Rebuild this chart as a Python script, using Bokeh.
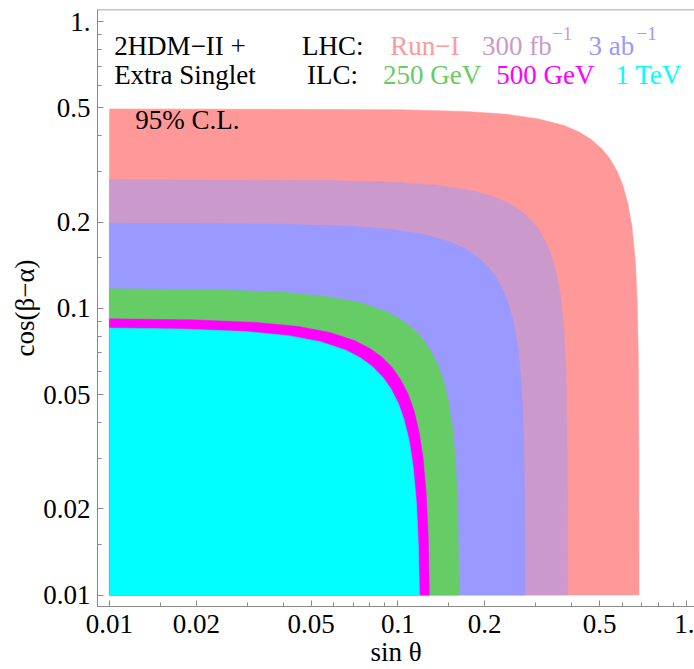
from bokeh.plotting import figure
from bokeh.models import FixedTicker, CustomJSTickFormatter, Label, Span
from bokeh.embed import file_html
from bokeh.resources import INLINE

# ---- data: boundaries of the 95% C.L. regions (sin theta, cos(beta-alpha)) ----
run1_x = [0.01, 0.1028, 0.1713, 0.2398, 0.3083, 0.3768, 0.4247, 0.4658, 0.5069, 0.5412, 0.5754,
          0.6028, 0.6268, 0.6473, 0.6645, 0.6747, 0.6816, 0.6843, 0.685]
run1_y = [0.496, 0.4929, 0.4861, 0.4747, 0.4576, 0.4338, 0.4120, 0.3894, 0.3619, 0.3343, 0.3008,
          0.2678, 0.2321, 0.1930, 0.1485, 0.1096, 0.0674, 0.0330, 0.01]

lhc300_x = [0.01, 0.0582, 0.0970, 0.1358, 0.1746, 0.2134, 0.2406, 0.2638, 0.2871, 0.3065, 0.3259,
            0.3414, 0.3550, 0.3667, 0.3764, 0.3822, 0.3861, 0.3876, 0.388]
lhc300_y = [0.281, 0.2792, 0.2754, 0.2689, 0.2593, 0.2457, 0.2334, 0.2206, 0.2050, 0.1894, 0.1704,
            0.1517, 0.1315, 0.1093, 0.0841, 0.0621, 0.0382, 0.0187, 0.01]

lhc3000_x = [0.01, 0.0414, 0.0690, 0.0966, 0.1242, 0.1518, 0.1711, 0.1877, 0.2042, 0.2180, 0.2318,
             0.2429, 0.2525, 0.2608, 0.2677, 0.2719, 0.2746, 0.276]
lhc3000_y = [0.198, 0.1964, 0.1933, 0.1881, 0.1806, 0.1703, 0.1612, 0.1517, 0.1403, 0.1289, 0.1153,
             0.1020, 0.0878, 0.0723, 0.0549, 0.0399, 0.0240, 0.01]

ilc250_x = [0.01, 0.02454, 0.0409, 0.05726, 0.07362, 0.08998, 0.1014, 0.1112, 0.1211, 0.1292, 0.1374,
            0.1440, 0.1497, 0.1546, 0.1587, 0.1611, 0.163]
ilc250_y = [0.117, 0.1159, 0.1135, 0.1098, 0.1047, 0.0979, 0.0920, 0.0859, 0.0788, 0.0719, 0.0636,
            0.0557, 0.0473, 0.0383, 0.0285, 0.0202, 0.01]

ilc500_x = [0.01, 0.0194, 0.0323, 0.04526, 0.05819, 0.07112, 0.08017, 0.08792, 0.09568, 0.1021, 0.1086,
            0.1138, 0.1183, 0.1222, 0.1254, 0.1274, 0.1285]
ilc500_y = [0.0919, 0.0912, 0.0893, 0.0864, 0.0823, 0.0770, 0.0723, 0.0676, 0.0620, 0.0565, 0.0500,
            0.0438, 0.0372, 0.0302, 0.0224, 0.0159, 0.01]

ilc1000_x = [0.01, 0.01794, 0.0299, 0.04186, 0.05382, 0.06578, 0.07415, 0.08133, 0.0885, 0.09448, 0.1005,
             0.1052, 0.1094, 0.1130, 0.1160, 0.1178, 0.1188]
ilc1000_y = [0.0854, 0.0847, 0.0830, 0.0803, 0.0765, 0.0716, 0.0672, 0.0628, 0.0576, 0.0525, 0.0465,
             0.0407, 0.0346, 0.0280, 0.0208, 0.0148, 0.01]

region_colors = ["#FF9999", "#CC99CC", "#9999FF", "#66CC66", "#FF00FF", "#00FFFF"]

major_ticks = [0.01, 0.02, 0.05, 0.1, 0.2, 0.5, 1.0]
minor_ticks = [0.015, 0.03, 0.04, 0.06, 0.07, 0.08, 0.09, 0.15, 0.3, 0.4, 0.6, 0.7, 0.8, 0.9]

SERIF = "Liberation Serif"
AXIS_GRAY = "#8a8a8a"
X_RANGE = (0.00909, 1.067)
Y_RANGE = (0.00912, 1.102)

p = figure(width=694, height=669, x_axis_type="log", y_axis_type="log",
           x_range=X_RANGE, y_range=Y_RANGE,
           output_backend="svg", toolbar_location=None,
           min_border_left=97, min_border_right=0, min_border_top=9, min_border_bottom=63,
           background_fill_color="white", border_fill_color="white")
p.outline_line_color = None
p.xgrid.visible = False
p.ygrid.visible = False

regions = [(run1_x, run1_y), (lhc300_x, lhc300_y), (lhc3000_x, lhc3000_y),
           (ilc250_x, ilc250_y), (ilc500_x, ilc500_y), (ilc1000_x, ilc1000_y)]
for (bx, by), col in zip(regions, region_colors):
    p.patch([0.01] + bx, [0.01] + by, fill_color=col, line_color=col, line_width=0.5)

fmt = CustomJSTickFormatter(code="return tick >= 0.999 ? '1.' : String(tick);")
for ax in (p.xaxis[0], p.yaxis[0]):
    ax.ticker = FixedTicker(ticks=major_ticks, minor_ticks=minor_ticks)
    ax.formatter = fmt
    ax.axis_line_color = AXIS_GRAY
    ax.major_tick_line_color = AXIS_GRAY
    ax.minor_tick_line_color = AXIS_GRAY
    ax.major_tick_in = 6
    ax.major_tick_out = 0
    ax.minor_tick_in = 4
    ax.minor_tick_out = 0
    ax.major_label_text_font = SERIF
    ax.major_label_text_font_size = "27px"
    ax.major_label_text_color = "black"
    ax.axis_label_text_font = SERIF
    ax.axis_label_text_font_size = "27px"
    ax.axis_label_text_font_style = "normal"
    ax.axis_label_text_color = "black"

p.xaxis.axis_label = "sin θ"
p.xaxis.major_label_standoff = 8
p.xaxis.axis_label_standoff = 1
p.yaxis.axis_label = "cos(β−α)"
p.yaxis.major_label_standoff = 7
p.yaxis.axis_label_standoff = 0

# top frame line
p.add_layout(Span(location=Y_RANGE[1], dimension="width", line_color=AXIS_GRAY, line_width=1.5))

def lab(x, y, text, color="black", size="27px", align="left"):
    p.add_layout(Label(x=x, y=y, text=text, text_font=SERIF, text_font_size=size,
                       text_color=color, text_align=align, text_baseline="alphabetic"))

lab(0.01038, 0.8207, "2HDM−II +")
lab(0.01038, 0.6537, "Extra Singlet")
lab(0.01228, 0.452, "95% C.L.")

lab(0.04649, 0.8207, "LHC:")
lab(0.0941, 0.8207, "Run−I", region_colors[0])
lab(0.1957, 0.8207, "300 fb", region_colors[1])
lab(0.3419, 0.909, "−1", region_colors[1], size="19px")
lab(0.4576, 0.8207, "3 ab", region_colors[2])
lab(0.6714, 0.909, "−1", region_colors[2], size="19px")

lab(0.04838, 0.6537, "ILC:")
lab(0.08878, 0.6537, "250 GeV", region_colors[3])
lab(0.2194, 0.6537, "500 GeV", region_colors[4])
lab(0.5677, 0.6537, "1 TeV", region_colors[5])

open("out.html", "w").write(file_html(p, INLINE))
